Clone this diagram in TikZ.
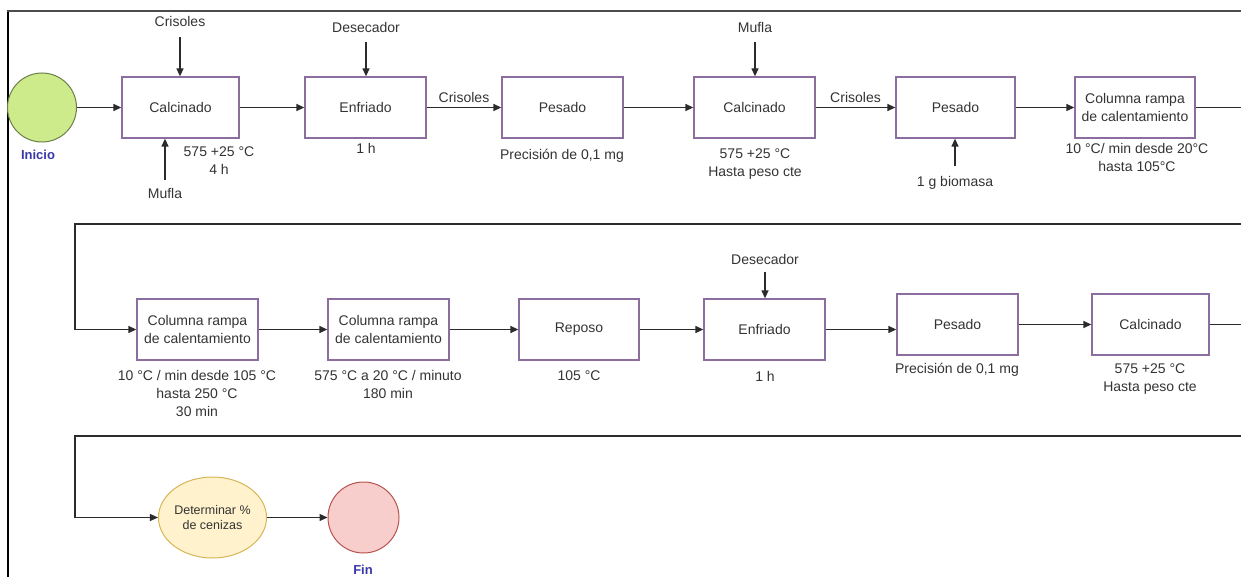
\documentclass[tikz,border=0pt]{standalone}
\usepackage{fontspec}
\setmainfont{Liberation Sans}
\usetikzlibrary{arrows.meta,shapes.geometric}

\definecolor{txt}{HTML}{333333}
\definecolor{wire}{HTML}{2B2B2B}
\definecolor{boxline}{HTML}{8C6D9F}
\definecolor{startfill}{HTML}{CDEB8B}
\definecolor{startline}{HTML}{6A7F4A}
\definecolor{endfill}{HTML}{F8CECC}
\definecolor{endline}{HTML}{B85450}
\definecolor{calcfill}{HTML}{FFF2CC}
\definecolor{calcline}{HTML}{D6B656}
\definecolor{tagblue}{HTML}{3838A8}

\tikzset{
  proc/.style={draw=boxline, line width=1.3pt, minimum width=120pt, minimum height=61pt,
    inner sep=0pt, align=center, text=txt, font=\fontsize{14}{18}\selectfont},
  note/.style={inner sep=0pt, align=center, text=txt, font=\fontsize{14}{18}\selectfont},
  tag/.style={inner sep=0pt, text=tagblue, font=\bfseries\fontsize{13}{16}\selectfont},
  flow/.style={draw=wire, line width=1.3pt, -{Triangle[length=8pt,width=7pt]}},
  frameline/.style={line width=2pt}
}

\begin{document}
\begin{tikzpicture}[x=1pt,y=-1pt]
\useasboundingbox (0,0) rectangle (1241,577);

% outer frame (top and left edges)
\draw[frameline, black] (8,577) -- (8,11);
\draw[frameline, black!70] (7,11) -- (1241,11);

% ---------- row 1 ----------
\node[circle, draw=startline, fill=startfill, line width=1pt, minimum size=69pt, inner sep=0pt] (ini) at (42,107.5) {};
\node[tag] (inilab) at (38,155) {Inicio};

\node[proc, minimum width=117pt] (cal1) at (180.5,107.5) {Calcinado};
\node[proc, minimum width=121pt] (enf1) at (365.5,107.5) {Enfriado};
\node[proc, minimum width=121pt] (pes1) at (562.5,107.5) {Pesado};
\node[proc, minimum width=121pt] (cal2) at (754.5,107.5) {Calcinado};
\node[proc, minimum width=119pt] (pes2) at (955.5,107.5) {Pesado};
\node[proc, minimum width=120pt] (col1) at (1135,107.5) {Columna rampa\\de calentamiento};

\node[note] (cal1in) at (180,22) {Crisoles};
\node[note] (cal1mf) at (165,193) {Mufla};
\node[note] (cal1nt) at (219,161) {575 +25 °C\\4 h};
\node[note] (enf1in) at (366,27) {Desecador};
\node[note] (enf1nt) at (366,148) {1 h};
\node[note] (pes1nt) at (562,156) {Precisión de 0,1 mg};
\node[note] (cal2in) at (755,27) {Mufla};
\node[note] (cal2nt) at (755,164) {575 +25 °C\\Hasta peso cte};
\node[note] (pes2in) at (955,183) {1 g biomasa};
\node[note] (col1nt) at (1137,157) {10 °C/ min desde 20°C\\hasta 105°C};

\draw[flow] (ini) -- (cal1);
\draw[flow] (cal1) -- (enf1);
\draw[flow] (enf1) -- node[note, above=4pt] (cr1) {Crisoles} (pes1);
\draw[flow] (pes1) -- (cal2);
\draw[flow] (cal2) -- node[note, above=4pt] (cr2) {Crisoles} (pes2);
\draw[flow] (pes2) -- (col1);

\draw[flow] ([yshift=-10pt]cal1in.south) -- (cal1.north -| cal1in);
\draw[flow] ([yshift=8pt]cal1mf.north) -- (cal1.south -| cal1mf);
\draw[flow] ([yshift=-10pt]enf1in.south) -- (enf1.north -| enf1in);
\draw[flow] ([yshift=-10pt]cal2in.south) -- (cal2.north -| cal2in);
\draw[flow] ([yshift=10pt]pes2in.north) -- (pes2.south -| pes2in);

% ---------- row 2 ----------
\node[proc, minimum width=121pt] (c21) at (197.5,329.5) {Columna rampa\\de calentamiento};
\node[proc, minimum width=121pt] (c22) at (388.5,329.5) {Columna rampa\\de calentamiento};
\node[proc, minimum width=120pt] (rep) at (579,329.5) {Reposo};
\node[proc, minimum width=121pt] (enf2) at (764.5,329.5) {Enfriado};
\node[proc, minimum width=121pt] (pes3) at (957.5,324.5) {Pesado};
\node[proc, minimum width=117pt] (cal3) at (1150.5,324.5) {Calcinado};

\node[note] (c21nt) at (197,393) {10 °C / min desde 105 °C\\hasta 250 °C\\30 min};
\node[note] (c22nt) at (388,384) {575 °C a 20 °C / minuto\\180 min};
\node[note] (repnt) at (579,376) {105 °C};
\node[note] (enf2in) at (765,259) {Desecador};
\node[note] (enf2nt) at (765,376) {1 h};
\node[note] (pes3nt) at (957,370) {Precisión de 0,1 mg};
\node[note] (cal3nt) at (1150,379) {575 +25 °C\\Hasta peso cte};

% return runs sit just at the right edge of the page
\coordinate (r1) at (1241.6,224);
\coordinate (l1) at (75,224);
\draw[flow] (col1.east) -| (r1) -- (l1) |- (c21.west);

\draw[flow] (c21) -- (c22);
\draw[flow] (c22) -- (rep);
\draw[flow] (rep) -- (enf2);
\draw[flow] (enf2.east) -- (enf2.east -| pes3.west);
\draw[flow] (pes3) -- (cal3);
\draw[flow] ([yshift=-8pt]enf2in.south) -- (enf2.north -| enf2in);

% ---------- row 3 ----------
\node[ellipse, draw=calcline, fill=calcfill, line width=1pt, minimum width=93pt, minimum height=81pt,
  inner sep=0pt, align=center, text=txt, font=\fontsize{12.5}{15}\selectfont] (det) at (212.5,517.5) {Determinar \%\\de cenizas};
\node[circle, draw=endline, fill=endfill, line width=1pt, minimum size=71pt, inner sep=0pt] (fin) at (363.5,517.5) {};
\node[tag] (finlab) at (363,570) {Fin};

\coordinate (r2) at (1241.6,436);
\coordinate (l2) at (75,436);
\draw[flow] (cal3.east) -| (r2) -- (l2) |- (det.west);
\draw[flow] (det) -- (fin);

\end{tikzpicture}
\end{document}
